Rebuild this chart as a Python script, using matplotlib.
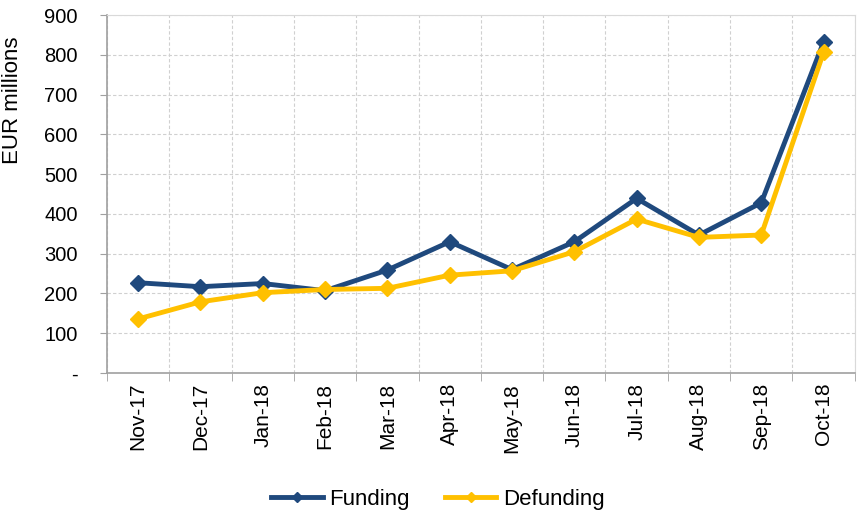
import matplotlib
matplotlib.use("Agg")
import matplotlib.pyplot as plt
import numpy as np
from matplotlib.ticker import FixedLocator

months = ["Nov-17", "Dec-17", "Jan-18", "Feb-18", "Mar-18", "Apr-18",
          "May-18", "Jun-18", "Jul-18", "Aug-18", "Sep-18", "Oct-18"]
funding = [227, 217, 225, 207, 259, 330, 260, 330, 439, 347, 428, 832]
defunding = [136, 179, 202, 210, 213, 246, 257, 305, 387, 341, 347, 806]
yticks = [0, 100, 200, 300, 400, 500, 600, 700, 800, 900]
ytick_labels = ["-", "100", "200", "300", "400", "500", "600", "700", "800", "900"]

plt.rcParams['font.family'] = ['Liberation Sans', 'DejaVu Sans']

fig = plt.figure(figsize=(8.59, 5.11), dpi=100)
ax = fig.add_axes([0.1246, 0.27, 0.8704, 0.7006])

x = np.arange(len(months))
ax.plot(x, funding, color="#1F497D", lw=3.5, marker="D", ms=8, label="Funding", zorder=3)
ax.plot(x, defunding, color="#FFC000", lw=3.5, marker="D", ms=8, label="Defunding", zorder=3)

ax.set_xlim(-0.5, len(months) - 0.5)
ax.set_ylim(0, 900)
ax.set_yticks(yticks)
ax.set_yticklabels(ytick_labels, fontsize=14.5)
ax.set_xticks(x)
ax.set_xticklabels(months, rotation=90, fontsize=15)
ax.tick_params(axis='x', length=0, pad=7)
ax.xaxis.set_minor_locator(FixedLocator(np.arange(-0.5, len(months), 1.0)))
ax.tick_params(axis='x', which='minor', length=6, color="#A0A0A0", direction='out')
ax.tick_params(axis='y', length=5, color="#A0A0A0", direction='out', pad=16)

ax.grid(True, axis='y', which='major', color="#D0D0D0", ls=(0, (3, 2)), lw=0.8)
ax.grid(True, axis='x', which='minor', color="#D0D0D0", ls=(0, (3, 2)), lw=0.8)
ax.set_axisbelow(True)

for s in ["top", "right"]:
    ax.spines[s].set_color("#D9D9D9")
for s in ["left", "bottom"]:
    ax.spines[s].set_color("#A0A0A0")
    ax.spines[s].set_linewidth(1.2)

ax.set_ylabel("EUR millions", fontsize=16)
ax.yaxis.set_label_coords(-0.112, 0.762)

fig.legend(loc="center", bbox_to_anchor=(0.51, 0.022), ncol=2, frameon=False,
           fontsize=16, handlelength=2.3, columnspacing=1.6, handletextpad=0.3,
           markerscale=0.6)

fig.savefig("out.png", dpi=100)
